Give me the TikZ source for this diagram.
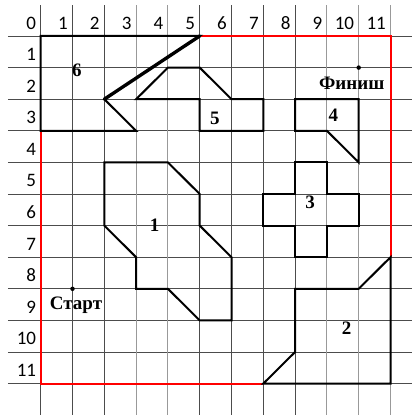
\documentclass[tikz,border=0pt]{standalone}
\usepackage{fontspec}
\setmainfont{Liberation Serif}
\newfontfamily\axisfont{Carlito}
\begin{document}
\begin{tikzpicture}[x=1cm,y=-0.9937cm,
  gridline/.style={draw=black!70,line width=0.8pt},
  gridlight/.style={draw=black!40,line width=0.8pt},
  figline/.style={draw=black,line width=1.8pt,line join=miter},
  thickline/.style={draw=black,line width=3pt,line cap=round},
  frameline/.style={draw=red,line width=1.8pt},
  axislabel/.style={font=\axisfont\fontsize{17}{17}\selectfont,inner sep=0pt,anchor=east},
  figlabel/.style={font=\bfseries\fontsize{17}{17}\selectfont,inner sep=0pt},
  dotmark/.style={fill=black,circle,inner sep=0pt,minimum size=4pt}
]
\useasboundingbox (-1.28,-1.139) rectangle (11.676,11.994);
% grid
\foreach \k in {0,...,11} \draw[gridline] (-1.03,\k) -- (11.676,\k);
\foreach \k in {0,1,2,5,6,7,8} \draw[gridline] (\k,-0.98) -- (\k,11.994);
\foreach \k in {3,4,9,10,11} \draw[gridlight] (\k,-0.98) -- (\k,11.994);
% axis labels
\foreach \k in {0,...,11} \node[axislabel] (col\k) at (\k-0.14,-0.41) {\k};
\foreach \k in {1,...,11} \node[axislabel] (row\k) at (-0.14,\k-0.42) {\k};
% red frame
\draw[frameline] (0,3) -- (0,11) -- (7,11);
\draw[frameline] (5,0) -- (11,0) -- (11,7);
% figure 6
\draw[figline] (0,0) -- (5,0) -- (2,2) -- (3,3) -- (0,3) -- cycle;
\draw[thickline] (5,0) -- (2,2);
% figure 5
\draw[figline] (3,2) -- (4,1) -- (5,1) -- (6,2) -- (7,2) -- (7,3) -- (5,3) -- (5,2) -- cycle;
% figure 4
\draw[figline] (8,2) -- (10,2) -- (10,4) -- (9,3) -- (8,3) -- cycle;
% figure 3
\draw[figline] (8,4) -- (9,4) -- (9,5) -- (10,5) -- (10,6) -- (9,6) -- (9,7) -- (8,7) -- (8,6) -- (7,6) -- (7,5) -- (8,5) -- cycle;
% figure 1
\draw[figline] (2,4) -- (4,4) -- (5,5) -- (5,6) -- (6,7) -- (6,9) -- (5,9) -- (4,8) -- (3,8) -- (3,7) -- (2,6) -- cycle;
% figure 2
\draw[figline] (8,8) -- (10,8) -- (11,7) -- (11,11) -- (7,11) -- (8,10) -- cycle;
% figure labels
\node[figlabel] (l6) at (1.14,1.08) {6};
\node[figlabel] (l5) at (5.48,2.6) {5};
\node[figlabel] (l4) at (9.2,2.5) {4};
\node[figlabel] (l3) at (8.47,5.27) {3};
\node[figlabel] (l1) at (3.58,6.0) {1};
\node[figlabel] (l2) at (9.62,9.25) {2};
% start and finish
\node[dotmark] (finish) at (10,1) {};
\node[dotmark] (start) at (1,8) {};
\node[figlabel] (finishlabel) at (9.78,1.5) {Финиш};
\node[figlabel] (startlabel) at (1.11,8.51) {Старт};
\end{tikzpicture}
\end{document}
